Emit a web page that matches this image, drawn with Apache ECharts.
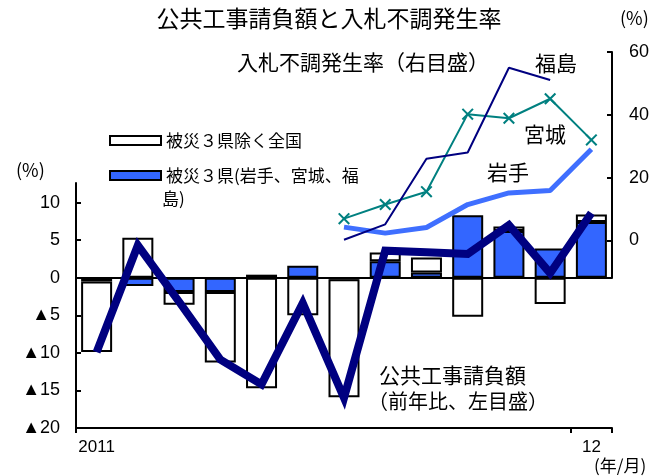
<!DOCTYPE html>
<html>
<head>
<meta charset="utf-8">
<script src="https://cdn.jsdelivr.net/npm/echarts@6/dist/echarts.min.js"></script>
<style>
  html, body { margin: 0; padding: 0; background: #fff; }
  #chart { width: 660px; height: 476px; }
</style>
</head>
<body>
<div id="chart"></div>
<script>
// Months on the category axis (2011/1 .. 2012/1)
const months = ['2011/1', '2011/2', '2011/3', '2011/4', '2011/5', '2011/6', '2011/7',
                '2011/8', '2011/9', '2011/10', '2011/11', '2011/12', '2012/1'];

// Public works contracts, y/y % (left axis)
const contractTotal = [-9.9, 4.3, -3.2, -10.9, -14.2, -3.4, -16.0, 3.6, 3.4, 3.15, 7.0, 0.6, 8.6];
// Contribution of the three disaster-hit prefectures (left axis)
const disaster3 = [-0.5, -1.1, -1.9, -1.9, 0.4, 1.6, -0.2, 2.2, 0.7, 8.3, 6.2, 3.9, 7.4];
// Contribution of the rest of the country (left axis)
const restOfJapan = [-9.4, 5.3, -1.7, -9.4, -14.7, -5.0, -15.7, 1.15, 2.0, -5.2, 0.6, -3.5, 1.0];

// Unsuccessful tender rate, % (right axis)
const iwate     = [null, null, null, null, null, null, 4.2, 2.3, 4.1, 11.4, 15.1, 15.9, 29.0];
const miyagi    = [null, null, null, null, null, null, 6.9, 11.4, 15.5, 40.2, 38.9, 45.1, 32.0];
const fukushima = [null, null, null, null, null, null, 0.2, 5.1, 26.0, 28.0, 55.0, 51.1, null];

// Tick values
const leftTicks = [-20, -15, -10, -5, 0, 5, 10];
const rightTicks = [0, 20, 40, 60];
const xLabels = { 0: '2011', 12: '12' };

const JP = '"Noto Sans CJK JP", sans-serif';
const NUM = '"Liberation Sans", Arial, "DejaVu Sans", "Noto Sans CJK JP", sans-serif';
const NAVY = '#000080';
const BLUE = '#3366FF';
const TEAL = '#008080';

const crossSymbol = 'path://M0,1.2L1.2,0L10,8.8L8.8,10Z M8.8,0L10,1.2L1.2,10L0,8.8Z';

const chart = echarts.init(document.getElementById('chart'), null, { renderer: 'canvas' });

chart.setOption({
  animation: false,
  backgroundColor: '#fff',
  grid: [
    { left: 76, right: 48, top: 183, bottom: 48 },
    { left: 76, right: 48, top: 52, bottom: 198 }
  ],
  legend: [
    {
      data: ['被災３県除く全国'],
      left: 104, top: 127, orient: 'vertical',
      icon: 'rect', itemWidth: 51, itemHeight: 9, selectedMode: false,
      itemStyle: { borderColor: '#000', borderWidth: 2 },
      textStyle: { fontSize: 17, fontFamily: JP, color: '#000' }
    },
    {
      data: ['被災３県(岩手、宮城、福島)'],
      left: 104, top: 162, orient: 'vertical',
      icon: 'rect', itemWidth: 51, itemHeight: 9, selectedMode: false,
      itemStyle: { borderColor: '#000', borderWidth: 2 },
      formatter: () => '被災３県(岩手、宮城、福',
      textStyle: { fontSize: 17, fontFamily: JP, color: '#000' }
    }
  ],
  xAxis: [
    {
      type: 'category', gridIndex: 0, data: months, boundaryGap: true, position: 'bottom',
      axisLine: { onZero: false, lineStyle: { color: '#000', width: 2 } },
      axisTick: { show: true, interval: (i) => i === 0 || i === 12, length: 5,
                  lineStyle: { color: '#000', width: 2 } },
      axisLabel: { interval: 0, formatter: (v, i) => xLabels[i] || '',
                   color: '#000', fontSize: 17, fontFamily: NUM, margin: 11 },
      splitLine: { show: false }
    },
    { type: 'category', gridIndex: 1, data: months, boundaryGap: true, show: false }
  ],
  yAxis: [
    {
      type: 'value', gridIndex: 0, position: 'left', min: -20, max: 12.6, interval: 5,
      axisLine: { show: true, lineStyle: { color: '#000', width: 2 } },
      axisTick: { show: true, inside: true, length: 5, customValues: leftTicks,
                  lineStyle: { color: '#000', width: 2 } },
      axisLabel: { customValues: leftTicks, formatter: (v) => v < 0 ? '▲' + (-v) : String(v),
                   color: '#000', fontSize: 18, fontFamily: NUM, margin: 16 },
      splitLine: { show: false }
    },
    {
      type: 'value', gridIndex: 1, position: 'right', min: -12, max: 60, interval: 20,
      axisLine: { show: true, lineStyle: { color: '#000', width: 2 } },
      axisTick: { show: true, inside: true, length: 5, customValues: rightTicks,
                  lineStyle: { color: '#000', width: 2 } },
      axisLabel: { customValues: rightTicks, color: '#000', fontSize: 18, fontFamily: NUM, margin: 17 },
      splitLine: { show: false }
    }
  ],
  series: [
    {
      name: '被災３県(岩手、宮城、福島)', type: 'bar', stack: 'contrib',
      xAxisIndex: 0, yAxisIndex: 0, data: disaster3, barWidth: 31,
      itemStyle: { color: BLUE, borderColor: '#000', borderWidth: 2 },
      markLine: {
        silent: true, symbol: 'none', label: { show: false },
        lineStyle: { color: '#000', width: 2, type: 'solid' },
        data: [{ yAxis: 0 }]
      }
    },
    {
      name: '被災３県除く全国', type: 'bar', stack: 'contrib',
      xAxisIndex: 0, yAxisIndex: 0, data: restOfJapan, barWidth: 31,
      itemStyle: { color: '#fff', borderColor: '#000', borderWidth: 2 }
    },
    {
      name: '公共工事請負額', type: 'line', xAxisIndex: 0, yAxisIndex: 0,
      data: contractTotal, symbol: 'none', z: 5,
      lineStyle: { color: NAVY, width: 8, join: 'miter', miterLimit: 3 }
    },
    {
      name: '岩手', type: 'line', xAxisIndex: 1, yAxisIndex: 1,
      data: iwate, symbol: 'none', z: 4,
      lineStyle: { color: '#3F6FFF', width: 5 }
    },
    {
      name: '宮城', type: 'line', xAxisIndex: 1, yAxisIndex: 1,
      data: miyagi, symbol: crossSymbol, symbolSize: 12, z: 4,
      itemStyle: { color: TEAL },
      lineStyle: { color: TEAL, width: 2 }
    },
    {
      name: '福島', type: 'line', xAxisIndex: 1, yAxisIndex: 1,
      data: fukushima, symbol: 'none', z: 4,
      lineStyle: { color: NAVY, width: 2 }
    }
  ],
  graphic: [
    { type: 'text', x: 329, y: 18, style: { text: '公共工事請負額と入札不調発生率', fontSize: 23, fontFamily: JP, fill: '#000', align: 'center', verticalAlign: 'middle' } },
    { type: 'text', x: 620, y: 18, style: { text: '(%)', fontSize: 18, fontFamily: JP, fill: '#000', verticalAlign: 'middle' } },
    { type: 'text', x: 16, y: 170, style: { text: '(%)', fontSize: 18, fontFamily: JP, fill: '#000', verticalAlign: 'middle' } },
    { type: 'text', x: 237, y: 62, style: { text: '入札不調発生率（右目盛）', fontSize: 21, fontFamily: JP, fill: '#000', verticalAlign: 'middle' } },
    { type: 'text', x: 535, y: 63, style: { text: '福島', fontSize: 21, fontFamily: JP, fill: '#000', verticalAlign: 'middle' } },
    { type: 'text', x: 524, y: 134, style: { text: '宮城', fontSize: 21, fontFamily: JP, fill: '#000', verticalAlign: 'middle' } },
    { type: 'text', x: 487, y: 172, style: { text: '岩手', fontSize: 21, fontFamily: JP, fill: '#000', verticalAlign: 'middle' } },
    { type: 'text', x: 379, y: 375, style: { text: '公共工事請負額', fontSize: 21, fontFamily: JP, fill: '#000', verticalAlign: 'middle' } },
    { type: 'text', x: 368, y: 401, style: { text: '（前年比、左目盛）', fontSize: 20, fontFamily: JP, fill: '#000', verticalAlign: 'middle' } },
    { type: 'text', x: 162, y: 199, style: { text: '島)', fontSize: 17, fontFamily: JP, fill: '#000', verticalAlign: 'middle' } },
    { type: 'text', x: 594, y: 466, style: { text: '(年/月)', fontSize: 17, fontFamily: JP, fill: '#000', verticalAlign: 'middle' } }
  ]
});
</script>
</body>
</html>
